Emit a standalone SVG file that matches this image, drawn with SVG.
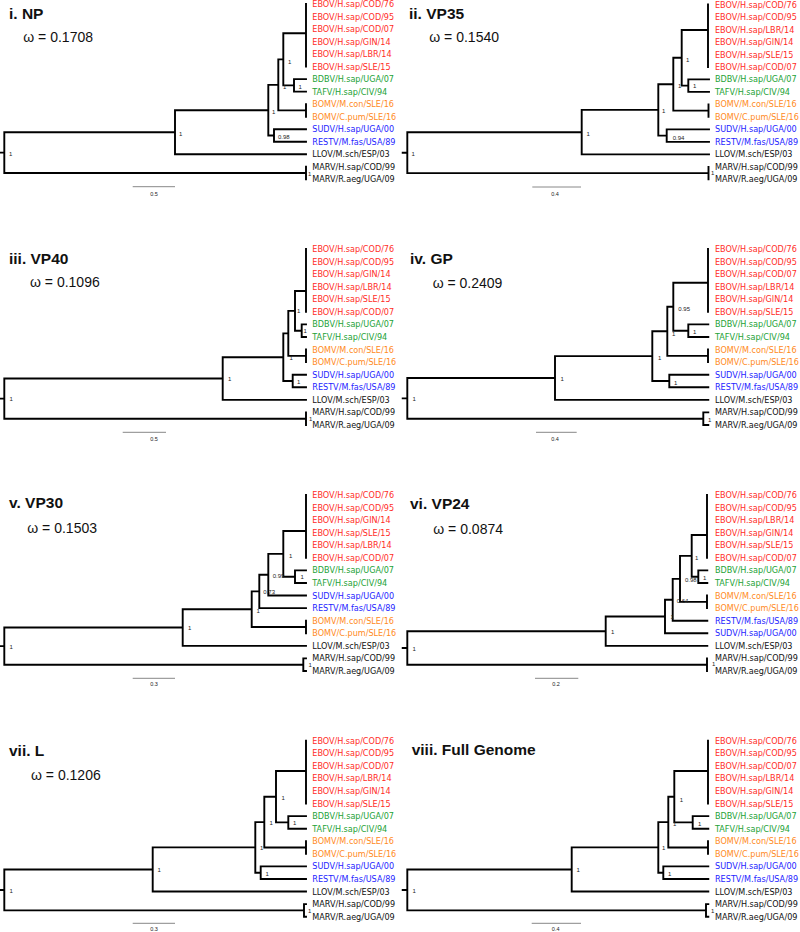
<svg xmlns="http://www.w3.org/2000/svg" width="800" height="932" viewBox="0 0 800 932">
<style>
.br{stroke:#000;stroke-width:1.9;fill:none;stroke-linecap:square}
.lf{font-family:"DejaVu Sans","Liberation Sans",sans-serif;font-size:8.1px}
.r{fill:#ff2d1f}.g{fill:#23a236}.o{fill:#ff8a1c}.b{fill:#2424ff}.k{fill:#111}
.ns{font-family:"Liberation Sans",sans-serif;font-size:6px;fill:#222}
.sb{stroke:#888;stroke-width:1;fill:none}
.sl{font-family:"Liberation Sans",sans-serif;font-size:5.5px;fill:#222;text-anchor:middle}
.tt{font-family:"Liberation Sans",sans-serif;font-size:15.5px;font-weight:bold;fill:#111}
.om{font-family:"Liberation Sans",sans-serif;font-size:14px;fill:#111}
</style>
<rect width="800" height="932" fill="#fff"/>

<!-- Panel i -->
<g id="panel-i">
<text class="tt" x="9" y="18.5">i. NP</text>
<text class="om" x="23.3" y="41.7">ω = 0.1708</text>
<g id="panel-i-branches">
<path class="br" d="M0,152.6H4.3M4.3,132.2V173M4.3,132.2H175M4.3,173H306M306,166.8V179.3M175,110.2V154.2M175,154.2H306M175,110.2H268.3M268.3,84.9V135.5M268.3,135.5H274M274,129.2V141.7M274,129.2H306M274,141.7H306M268.3,84.9H278.3M278.3,59.4V110.4M278.3,110.4H306M306,104.2V116.7M278.3,59.4H283.3M283.3,33.3V85.4M283.3,33.3H306M306,4V66.6M283.3,85.4H294M294,79.1V91.6M294,79.1H306M294,91.6H306"/>
</g>
<g id="panel-i-support">
<text class="ns" x="9" y="156">1</text><text class="ns" x="179" y="136">1</text><text class="ns" x="272" y="114">1</text><text class="ns" x="283" y="89">1</text><text class="ns" x="288" y="64">1</text><text class="ns" x="298.5" y="88.5">1</text><text class="ns" x="278" y="139">0.98</text><text class="ns" x="308" y="176">1</text>
</g>
<g id="panel-i-leaves" transform="translate(312.3,0)">
<text id="i-l0" class="lf r" y="7">EBOV/H.sap/COD/76</text>
<text id="i-l1" class="lf r" y="19.5">EBOV/H.sap/COD/95</text>
<text id="i-l2" class="lf r" y="32">EBOV/H.sap/COD/07</text>
<text id="i-l3" class="lf r" y="44.6">EBOV/H.sap/GIN/14</text>
<text id="i-l4" class="lf r" y="57.1">EBOV/H.sap/LBR/14</text>
<text id="i-l5" class="lf r" y="69.6">EBOV/H.sap/SLE/15</text>
<text id="i-l6" class="lf g" y="82.1">BDBV/H.sap/UGA/07</text>
<text id="i-l7" class="lf g" y="94.6">TAFV/H.sap/CIV/94</text>
<text id="i-l8" class="lf o" y="107.2">BOMV/M.con/SLE/16</text>
<text id="i-l9" class="lf o" y="119.7">BOMV/C.pum/SLE/16</text>
<text id="i-l10" class="lf b" y="132.2">SUDV/H.sap/UGA/00</text>
<text id="i-l11" class="lf b" y="144.7">RESTV/M.fas/USA/89</text>
<text id="i-l12" class="lf k" y="157.2">LLOV/M.sch/ESP/03</text>
<text id="i-l13" class="lf k" y="169.8">MARV/H.sap/COD/99</text>
<text id="i-l14" class="lf k" y="182.3">MARV/R.aeg/UGA/09</text>
</g>
<g id="panel-i-scale"><path class="sb" d="M132.7,186.7H175"/><text class="sl" x="154" y="195.5">0.5</text></g>
</g>

<!-- Panel ii -->
<g id="panel-ii" transform="translate(400,0)">
<text class="tt" x="9" y="18.5">ii. VP35</text>
<text class="om" x="29.3" y="41.7">ω = 0.1540</text>
<g id="panel-ii-branches">
<path class="br" d="M2.7,152.7H7.3M7.3,132.2V173.15M7.3,132.2H181.7M7.3,173.15H308.5M308.5,166.9V179.4M181.7,109.9V154.4M181.7,154.4H309M181.7,109.9H258.3M258.3,84.2V135.65M258.3,135.65H266.7M266.7,129.4V141.9M266.7,129.4H309M266.7,141.9H309M258.3,84.2H273.3M273.3,57.8V110.65M273.3,110.65H308.5M308.5,104.4V116.9M273.3,57.8H281.7M281.7,30V85.65M281.7,30H308M308,4.5V67M281.7,85.65H288.3M288.3,79.4V91.9M288.3,79.4H309M288.3,91.9H309"/>
</g>
<g id="panel-ii-support">
<text class="ns" x="11.5" y="156">1</text><text class="ns" x="186.5" y="136">1</text><text class="ns" x="262" y="113">1</text><text class="ns" x="278" y="88">1</text><text class="ns" x="286" y="62">1</text><text class="ns" x="293" y="88">1</text><text class="ns" x="272.7" y="140">0.94</text><text class="ns" x="311" y="175">1</text>
</g>
<g id="panel-ii-leaves" transform="translate(315,0)">
<text id="ii-l0" class="lf r" y="7.5">EBOV/H.sap/COD/76</text>
<text id="ii-l1" class="lf r" y="20">EBOV/H.sap/COD/95</text>
<text id="ii-l2" class="lf r" y="32.5">EBOV/H.sap/LBR/14</text>
<text id="ii-l3" class="lf r" y="45">EBOV/H.sap/GIN/14</text>
<text id="ii-l4" class="lf r" y="57.5">EBOV/H.sap/SLE/15</text>
<text id="ii-l5" class="lf r" y="70">EBOV/H.sap/COD/07</text>
<text id="ii-l6" class="lf g" y="82.4">BDBV/H.sap/UGA/07</text>
<text id="ii-l7" class="lf g" y="94.9">TAFV/H.sap/CIV/94</text>
<text id="ii-l8" class="lf o" y="107.4">BOMV/M.con/SLE/16</text>
<text id="ii-l9" class="lf o" y="119.9">BOMV/C.pum/SLE/16</text>
<text id="ii-l10" class="lf b" y="132.4">SUDV/H.sap/UGA/00</text>
<text id="ii-l11" class="lf b" y="144.9">RESTV/M.fas/USA/89</text>
<text id="ii-l12" class="lf k" y="157.4">LLOV/M.sch/ESP/03</text>
<text id="ii-l13" class="lf k" y="169.9">MARV/H.sap/COD/99</text>
<text id="ii-l14" class="lf k" y="182.4">MARV/R.aeg/UGA/09</text>
</g>
<g id="panel-ii-scale"><path class="sb" d="M132.3,187H181"/><text class="sl" x="155" y="195.5">0.4</text></g>
</g>

<!-- Panel iii -->
<g id="panel-iii" transform="translate(0,230)">
<text class="tt" x="9" y="34.3">iii. VP40</text>
<text class="om" x="30" y="57.3">ω = 0.1096</text>
<g id="panel-iii-branches">
<path class="br" d="M0,168.6H4.3M4.3,148.5V188.7M4.3,148.5H222.7M4.3,188.7H306M306,182.4V195M222.7,127.2V169.84M222.7,169.84H306M222.7,127.2H283.3M283.3,103.35V151M283.3,151H292.7M292.7,144.7V157.27M292.7,144.7H306M292.7,157.27H306M283.3,103.35H288.3M288.3,80.85V125.85M288.3,125.85H306M306,119.56V132.13M288.3,80.85H295M295,61V100.7M295,61H306M306,19V81.85M295,100.7H301.7M301.7,94.42V107M301.7,94.42H306M301.7,107H306"/>
</g>
<g id="panel-iii-support">
<text class="ns" x="9.5" y="171">1</text><text class="ns" x="228" y="151">1</text><text class="ns" x="289.5" y="130">1</text><text class="ns" x="297" y="83">1</text><text class="ns" x="303.5" y="102.5">1</text><text class="ns" x="297" y="154">1</text><text class="ns" x="309" y="191">1</text>
</g>
<g id="panel-iii-leaves" transform="translate(312.3,0)">
<text id="iii-l0" class="lf r" y="22">EBOV/H.sap/COD/76</text>
<text id="iii-l1" class="lf r" y="34.6">EBOV/H.sap/COD/95</text>
<text id="iii-l2" class="lf r" y="47.1">EBOV/H.sap/GIN/14</text>
<text id="iii-l3" class="lf r" y="59.7">EBOV/H.sap/LBR/14</text>
<text id="iii-l4" class="lf r" y="72.3">EBOV/H.sap/SLE/15</text>
<text id="iii-l5" class="lf r" y="84.9">EBOV/H.sap/COD/07</text>
<text id="iii-l6" class="lf g" y="97.4">BDBV/H.sap/UGA/07</text>
<text id="iii-l7" class="lf g" y="110">TAFV/H.sap/CIV/94</text>
<text id="iii-l8" class="lf o" y="122.6">BOMV/M.con/SLE/16</text>
<text id="iii-l9" class="lf o" y="135.1">BOMV/C.pum/SLE/16</text>
<text id="iii-l10" class="lf b" y="147.7">SUDV/H.sap/UGA/00</text>
<text id="iii-l11" class="lf b" y="160.3">RESTV/M.fas/USA/89</text>
<text id="iii-l12" class="lf k" y="172.8">LLOV/M.sch/ESP/03</text>
<text id="iii-l13" class="lf k" y="185.4">MARV/H.sap/COD/99</text>
<text id="iii-l14" class="lf k" y="198">MARV/R.aeg/UGA/09</text>
</g>
<g id="panel-iii-scale"><path class="sb" d="M122.7,202.3H166"/><text class="sl" x="154" y="211">0.5</text></g>
</g>

<!-- Panel iv -->
<g id="panel-iv" transform="translate(400,230)">
<text class="tt" x="10" y="34.3">iv. GP</text>
<text class="om" x="32.7" y="58.3">ω = 0.2409</text>
<g id="panel-iv-branches">
<path class="br" d="M2.7,168.35H7.3M7.3,148V188.7M7.3,148H155M7.3,188.7H303.3M303.3,182.4V195M303.3,182.4H308.3M303.3,195H308.3M155,126.15V169.84M155,169.84H308.3M155,126.15H252.3M252.3,101.3V151M252.3,151H269.3M269.3,144.7V157.27M269.3,144.7H308.3M269.3,157.27H308.3M252.3,101.3H267.3M267.3,76.7V125.85M267.3,125.85H308M308,119.56V132.13M267.3,76.7H273.3M273.3,52.7V100.7M273.3,52.7H308M308,19V81.85M273.3,100.7H288.3M288.3,94.42V107M288.3,94.42H308.3M288.3,107H308.3"/>
</g>
<g id="panel-iv-support">
<text class="ns" x="12.5" y="171">1</text><text class="ns" x="160.5" y="150.5">1</text><text class="ns" x="258" y="129.5">1</text><text class="ns" x="272" y="105.5">1</text><text class="ns" x="278.3" y="81">0.95</text><text class="ns" x="293" y="103.5">1</text><text class="ns" x="274" y="154.5">1</text><text class="ns" x="308" y="191.5">1</text>
</g>
<g id="panel-iv-leaves" transform="translate(315,0)">
<text id="iv-l0" class="lf r" y="22">EBOV/H.sap/COD/76</text>
<text id="iv-l1" class="lf r" y="34.6">EBOV/H.sap/COD/95</text>
<text id="iv-l2" class="lf r" y="47.1">EBOV/H.sap/COD/07</text>
<text id="iv-l3" class="lf r" y="59.7">EBOV/H.sap/LBR/14</text>
<text id="iv-l4" class="lf r" y="72.3">EBOV/H.sap/GIN/14</text>
<text id="iv-l5" class="lf r" y="84.9">EBOV/H.sap/SLE/15</text>
<text id="iv-l6" class="lf g" y="97.4">BDBV/H.sap/UGA/07</text>
<text id="iv-l7" class="lf g" y="110">TAFV/H.sap/CIV/94</text>
<text id="iv-l8" class="lf o" y="122.6">BOMV/M.con/SLE/16</text>
<text id="iv-l9" class="lf o" y="135.1">BOMV/C.pum/SLE/16</text>
<text id="iv-l10" class="lf b" y="147.7">SUDV/H.sap/UGA/00</text>
<text id="iv-l11" class="lf b" y="160.3">RESTV/M.fas/USA/89</text>
<text id="iv-l12" class="lf k" y="172.8">LLOV/M.sch/ESP/03</text>
<text id="iv-l13" class="lf k" y="185.4">MARV/H.sap/COD/99</text>
<text id="iv-l14" class="lf k" y="198">MARV/R.aeg/UGA/09</text>
</g>
<g id="panel-iv-scale"><path class="sb" d="M136,202.3H176.7"/><text class="sl" x="155" y="211">0.4</text></g>
</g>

<!-- Panel v -->
<g id="panel-v" transform="translate(0,470)">
<text class="tt" x="9" y="38.3">v. VP30</text>
<text class="om" x="27.3" y="62.7">ω = 0.1503</text>
<g id="panel-v-branches">
<path class="br" d="M0,176.1H4.3M4.3,157.5V194.7M4.3,157.5H182.7M4.3,194.7H303.3M303.3,188.41V200.98M303.3,188.41H306M303.3,200.98H306M182.7,139.2V175.84M182.7,175.84H306M182.7,139.2H251.7M251.7,121.4V157M251.7,157H306M306,150.7V163.27M251.7,121.4H259.3M259.3,104.7V138.13M259.3,138.13H306M259.3,104.7H268.3M268.3,83.85V125.56M268.3,125.56H306M268.3,83.85H283.3M283.3,61V106.7M283.3,61H306M306,25V87.85M283.3,106.7H295M295,100.42V113M295,100.42H306M295,113H306"/>
</g>
<g id="panel-v-support">
<text class="ns" x="9.5" y="178.5">1</text><text class="ns" x="188" y="160">1</text><text class="ns" x="256.5" y="142.5">1</text><text class="ns" x="263.3" y="124">0.73</text><text class="ns" x="272.7" y="107.5">0.99</text><text class="ns" x="289" y="87.5">1</text><text class="ns" x="300.5" y="109">1</text><text class="ns" x="308.5" y="197">1</text>
</g>
<g id="panel-v-leaves" transform="translate(312.3,0)">
<text id="v-l0" class="lf r" y="28">EBOV/H.sap/COD/76</text>
<text id="v-l1" class="lf r" y="40.6">EBOV/H.sap/COD/95</text>
<text id="v-l2" class="lf r" y="53.1">EBOV/H.sap/GIN/14</text>
<text id="v-l3" class="lf r" y="65.7">EBOV/H.sap/SLE/15</text>
<text id="v-l4" class="lf r" y="78.3">EBOV/H.sap/LBR/14</text>
<text id="v-l5" class="lf r" y="90.9">EBOV/H.sap/COD/07</text>
<text id="v-l6" class="lf g" y="103.4">BDBV/H.sap/UGA/07</text>
<text id="v-l7" class="lf g" y="116">TAFV/H.sap/CIV/94</text>
<text id="v-l8" class="lf b" y="128.6">SUDV/H.sap/UGA/00</text>
<text id="v-l9" class="lf b" y="141.1">RESTV/M.fas/USA/89</text>
<text id="v-l10" class="lf o" y="153.7">BOMV/M.con/SLE/16</text>
<text id="v-l11" class="lf o" y="166.3">BOMV/C.pum/SLE/16</text>
<text id="v-l12" class="lf k" y="178.8">LLOV/M.sch/ESP/03</text>
<text id="v-l13" class="lf k" y="191.4">MARV/H.sap/COD/99</text>
<text id="v-l14" class="lf k" y="204">MARV/R.aeg/UGA/09</text>
</g>
<g id="panel-v-scale"><path class="sb" d="M132.7,208.3H175"/><text class="sl" x="154" y="216">0.3</text></g>
</g>

<!-- Panel vi -->
<g id="panel-vi" transform="translate(400,470)">
<text class="tt" x="10" y="39.3">vi. VP24</text>
<text class="om" x="33.3" y="64">ω = 0.0874</text>
<g id="panel-vi-branches">
<path class="br" d="M2.7,177.95H7.3M7.3,161.2V194.7M7.3,161.2H205.7M7.3,194.7H307M307,188.41V200.98M205.7,146.5V175.84M205.7,175.84H307.3M205.7,146.5H265M265,129.8V163.27M265,163.27H307.3M265,129.8H272.7M272.7,108.85V150.7M272.7,150.7H307.3M272.7,108.85H280M280,85.85V131.85M280,131.85H307M307,125.56V138.13M280,85.85H291.7M291.7,65V106.7M291.7,65H307M307,25V87.85M291.7,106.7H298.3M298.3,100.42V113M298.3,100.42H307.3M298.3,113H307.3"/>
</g>
<g id="panel-vi-support">
<text class="ns" x="12.5" y="180.5">1</text><text class="ns" x="211" y="164">1</text><text class="ns" x="270.5" y="148.5">1</text><text class="ns" x="276.7" y="133">0.64</text><text class="ns" x="285" y="111.5">0.98</text><text class="ns" x="295" y="89.5">1</text><text class="ns" x="303" y="109.5">1</text><text class="ns" x="312" y="196">1</text>
</g>
<g id="panel-vi-leaves" transform="translate(315,0)">
<text id="vi-l0" class="lf r" y="28">EBOV/H.sap/COD/76</text>
<text id="vi-l1" class="lf r" y="40.6">EBOV/H.sap/COD/95</text>
<text id="vi-l2" class="lf r" y="53.1">EBOV/H.sap/LBR/14</text>
<text id="vi-l3" class="lf r" y="65.7">EBOV/H.sap/GIN/14</text>
<text id="vi-l4" class="lf r" y="78.3">EBOV/H.sap/SLE/15</text>
<text id="vi-l5" class="lf r" y="90.9">EBOV/H.sap/COD/07</text>
<text id="vi-l6" class="lf g" y="103.4">BDBV/H.sap/UGA/07</text>
<text id="vi-l7" class="lf g" y="116">TAFV/H.sap/CIV/94</text>
<text id="vi-l8" class="lf o" y="128.6">BOMV/M.con/SLE/16</text>
<text id="vi-l9" class="lf o" y="141.1">BOMV/C.pum/SLE/16</text>
<text id="vi-l10" class="lf b" y="153.7">RESTV/M.fas/USA/89</text>
<text id="vi-l11" class="lf b" y="166.3">SUDV/H.sap/UGA/00</text>
<text id="vi-l12" class="lf k" y="178.8">LLOV/M.sch/ESP/03</text>
<text id="vi-l13" class="lf k" y="191.4">MARV/H.sap/COD/99</text>
<text id="vi-l14" class="lf k" y="204">MARV/R.aeg/UGA/09</text>
</g>
<g id="panel-vi-scale"><path class="sb" d="M135,208.3H178.3"/><text class="sl" x="156" y="216">0.2</text></g>
</g>

<!-- Panel vii -->
<g id="panel-vii" transform="translate(0,700)">
<text class="tt" x="9" y="56">vii. L</text>
<text class="om" x="31" y="80">ω = 0.1206</text>
<g id="panel-vii-branches">
<path class="br" d="M0,190H4.3M4.3,169.5V210.4M4.3,169.5H152.7M4.3,210.4H304M304,204.11V216.68M304,204.11H306M304,216.68H306M152.7,147.4V191.54M152.7,191.54H306M152.7,147.4H255.3M255.3,122.1V172.7M255.3,172.7H260.7M260.7,166.4V178.97M260.7,166.4H306M260.7,178.97H306M255.3,122.1H264.3M264.3,96.7V147.55M264.3,147.55H306M306,141.26V153.83M264.3,96.7H276M276,71V122.4M276,71H306M306,40.7V103.55M276,122.4H288.3M288.3,116.12V128.69M288.3,116.12H306M288.3,128.69H306"/>
</g>
<g id="panel-vii-support">
<text class="ns" x="9.5" y="192.5">1</text><text class="ns" x="157.5" y="172">1</text><text class="ns" x="260" y="149.5">1</text><text class="ns" x="269.5" y="124.5">1</text><text class="ns" x="281.5" y="100">1</text><text class="ns" x="293" y="125">1</text><text class="ns" x="265.5" y="175.5">1</text><text class="ns" x="308" y="213">1</text>
</g>
<g id="panel-vii-leaves" transform="translate(312.3,0)">
<text id="vii-l0" class="lf r" y="43.7">EBOV/H.sap/COD/76</text>
<text id="vii-l1" class="lf r" y="56.3">EBOV/H.sap/COD/95</text>
<text id="vii-l2" class="lf r" y="68.8">EBOV/H.sap/COD/07</text>
<text id="vii-l3" class="lf r" y="81.4">EBOV/H.sap/LBR/14</text>
<text id="vii-l4" class="lf r" y="94">EBOV/H.sap/GIN/14</text>
<text id="vii-l5" class="lf r" y="106.6">EBOV/H.sap/SLE/15</text>
<text id="vii-l6" class="lf g" y="119.1">BDBV/H.sap/UGA/07</text>
<text id="vii-l7" class="lf g" y="131.7">TAFV/H.sap/CIV/94</text>
<text id="vii-l8" class="lf o" y="144.3">BOMV/M.con/SLE/16</text>
<text id="vii-l9" class="lf o" y="156.8">BOMV/C.pum/SLE/16</text>
<text id="vii-l10" class="lf b" y="169.4">SUDV/H.sap/UGA/00</text>
<text id="vii-l11" class="lf b" y="182">RESTV/M.fas/USA/89</text>
<text id="vii-l12" class="lf k" y="194.5">LLOV/M.sch/ESP/03</text>
<text id="vii-l13" class="lf k" y="207.1">MARV/H.sap/COD/99</text>
<text id="vii-l14" class="lf k" y="219.7">MARV/R.aeg/UGA/09</text>
</g>
<g id="panel-vii-scale"><path class="sb" d="M132.7,223.3H175"/><text class="sl" x="154" y="230.5">0.3</text></g>
</g>

<!-- Panel viii -->
<g id="panel-viii" transform="translate(400,700)">
<text class="tt" x="11.7" y="55">viii. Full Genome</text>
<g id="panel-viii-branches">
<path class="br" d="M2.7,190H7.3M7.3,169.5V210.4M7.3,169.5H171.7M7.3,210.4H306M306,204.11V216.68M306,204.11H308.3M306,216.68H308.3M171.7,147.4V191.54M171.7,191.54H308.3M171.7,147.4H258.3M258.3,122.1V172.7M258.3,172.7H263.3M263.3,166.4V178.97M263.3,166.4H308.3M263.3,178.97H308.3M258.3,122.1H268.3M268.3,96.7V147.55M268.3,147.55H308M308,141.26V153.83M268.3,96.7H274.3M274.3,71V122.4M274.3,71H308M308,40.7V103.55M274.3,122.4H292.7M292.7,116.12V128.69M292.7,116.12H308.3M292.7,128.69H308.3"/>
</g>
<g id="panel-viii-support">
<text class="ns" x="12.5" y="192.5">1</text><text class="ns" x="176.5" y="172">1</text><text class="ns" x="262" y="150">1</text><text class="ns" x="273" y="125.5">1</text><text class="ns" x="279.8" y="101.5">1</text><text class="ns" x="298" y="125.5">1</text><text class="ns" x="268" y="175.5">1</text><text class="ns" x="311" y="213">1</text>
</g>
<g id="panel-viii-leaves" transform="translate(315,0)">
<text id="viii-l0" class="lf r" y="43.7">EBOV/H.sap/COD/76</text>
<text id="viii-l1" class="lf r" y="56.3">EBOV/H.sap/COD/95</text>
<text id="viii-l2" class="lf r" y="68.8">EBOV/H.sap/COD/07</text>
<text id="viii-l3" class="lf r" y="81.4">EBOV/H.sap/LBR/14</text>
<text id="viii-l4" class="lf r" y="94">EBOV/H.sap/GIN/14</text>
<text id="viii-l5" class="lf r" y="106.6">EBOV/H.sap/SLE/15</text>
<text id="viii-l6" class="lf g" y="119.1">BDBV/H.sap/UGA/07</text>
<text id="viii-l7" class="lf g" y="131.7">TAFV/H.sap/CIV/94</text>
<text id="viii-l8" class="lf o" y="144.3">BOMV/M.con/SLE/16</text>
<text id="viii-l9" class="lf o" y="156.8">BOMV/C.pum/SLE/16</text>
<text id="viii-l10" class="lf b" y="169.4">SUDV/H.sap/UGA/00</text>
<text id="viii-l11" class="lf b" y="182">RESTV/M.fas/USA/89</text>
<text id="viii-l12" class="lf k" y="194.5">LLOV/M.sch/ESP/03</text>
<text id="viii-l13" class="lf k" y="207.1">MARV/H.sap/COD/99</text>
<text id="viii-l14" class="lf k" y="219.7">MARV/R.aeg/UGA/09</text>
</g>
<g id="panel-viii-scale"><path class="sb" d="M131.7,223.3H181"/><text class="sl" x="155.7" y="230.5">0.4</text></g>
</g>
</svg>
